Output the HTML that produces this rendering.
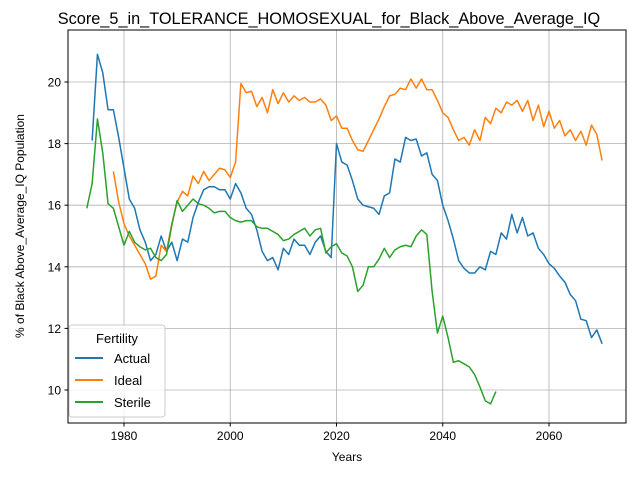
<!DOCTYPE html>
<html><head><meta charset="utf-8"><style>
body{margin:0;background:#fff;font-family:"Liberation Sans",sans-serif}
svg text{font-family:"Liberation Sans",sans-serif;fill:#000}
</style></head><body>
<svg id="chart" width="640" height="480" viewBox="0 0 640 480" xmlns="http://www.w3.org/2000/svg">
<rect width="640" height="480" fill="#fff"/>
<g id="grid"></g>
<g id="series"></g>
<rect x="68" y="30" width="558" height="393" fill="none" stroke="#000" stroke-width="1"/>
<g id="ticks"></g>
<text x="329" y="24" font-size="16.3" text-anchor="middle">Score_5_in_TOLERANCE_HOMOSEXUAL_for_Black_Above_Average_IQ</text>
<text x="347" y="461" font-size="12" text-anchor="middle">Years</text>
<text transform="translate(24,226) rotate(-90)" font-size="12" text-anchor="middle">% of Black Above_Average_IQ Population</text>
<g>
<rect x="69" y="325" width="96" height="92" rx="3" fill="#fff" fill-opacity="0.8" stroke="#ccc"/>
<text x="117" y="343" font-size="13" text-anchor="middle">Fertility</text>
<g><line x1="75" y1="358" x2="103" y2="358" stroke="#1f77b4" stroke-width="2"/><text x="114" y="363" font-size="13">Actual</text></g>
<g><line x1="75" y1="380" x2="103" y2="380" stroke="#ff7f0e" stroke-width="2"/><text x="114" y="385" font-size="13">Ideal</text></g>
<g><line x1="75" y1="402" x2="103" y2="402" stroke="#2ca02c" stroke-width="2"/><text x="114" y="407" font-size="13">Sterile</text></g>
</g>
</svg>
<script>
const actualStart = 1974;
const actualValues = [18.1,20.9,20.3,19.1,19.1,18.2,17.2,16.2,15.9,15.2,14.8,14.2,14.4,15.0,14.5,14.8,14.2,14.9,14.8,15.6,16.1,16.5,16.6,16.6,16.5,16.5,16.2,16.7,16.4,15.9,15.7,15.2,14.5,14.2,14.3,13.9,14.6,14.4,14.9,14.7,14.7,14.4,14.8,15.0,14.5,14.3,18.0,17.4,17.3,16.8,16.2,16.0,15.95,15.9,15.7,16.3,16.4,17.5,17.4,18.2,18.1,18.15,17.6,17.7,17.0,16.8,16.0,15.5,14.9,14.2,13.95,13.8,13.8,14.0,13.9,14.5,14.4,15.1,14.9,15.7,15.1,15.6,15.0,15.1,14.6,14.4,14.1,13.95,13.7,13.5,13.1,12.9,12.3,12.25,11.7,11.95,11.5];
const idealStart = 1978;
const idealValues = [17.1,16.1,15.4,15.0,14.7,14.4,14.1,13.6,13.7,14.7,14.5,15.4,16.1,16.45,16.3,16.95,16.7,17.1,16.8,17.0,17.2,17.15,16.9,17.4,19.95,19.65,19.7,19.2,19.5,19.0,19.75,19.3,19.65,19.35,19.55,19.4,19.5,19.35,19.35,19.45,19.25,18.75,18.9,18.5,18.5,18.1,17.8,17.75,18.1,18.45,18.8,19.2,19.55,19.6,19.8,19.75,20.1,19.8,20.1,19.75,19.75,19.4,19.0,18.85,18.45,18.1,18.2,17.95,18.45,18.1,18.85,18.65,19.15,19.0,19.35,19.25,19.4,19.05,19.4,18.75,19.25,18.55,19.05,18.5,18.75,18.25,18.45,18.1,18.4,17.95,18.6,18.3,17.45];
const sterileStart = 1973;
const sterileValues = [15.9,16.7,18.8,17.7,16.05,15.9,15.3,14.7,15.15,14.8,14.65,14.55,14.6,14.3,14.2,14.4,15.35,16.15,15.8,16.0,16.2,16.05,16.0,15.9,15.75,15.8,15.8,15.6,15.5,15.45,15.5,15.5,15.3,15.25,15.25,15.15,15.05,14.85,14.9,15.05,15.15,15.25,15.0,15.2,15.25,14.45,14.65,14.75,14.45,14.35,14.0,13.2,13.4,14.0,14.0,14.25,14.6,14.3,14.55,14.65,14.7,14.65,15.0,15.2,15.05,13.2,11.85,12.4,11.7,10.9,10.95,10.85,10.75,10.5,10.1,9.65,9.55,9.95];
const xTicks = [1980,2000,2020,2040,2060];
const yTicks = [10,12,14,16,18,20];

const NS = "http://www.w3.org/2000/svg";
function xs(yr){return 124 + (yr-1980)*(549-124)/80;}
function ys(v){return 390 - (v-10)*(390-82)/10;}
const grid = document.getElementById('grid'), ticks = document.getElementById('ticks'), ser = document.getElementById('series');
function mk(tag, attrs, parent){const e=document.createElementNS(NS,tag);for(const k in attrs)e.setAttribute(k,attrs[k]);parent.appendChild(e);return e;}
xTicks.forEach(t=>{
  const x=xs(t);
  const g=mk('line',{x1:x,x2:x,y1:30,y2:423,stroke:'#b0b0b0','stroke-width':0.8},grid);
  
  
  mk('line',{x1:x,x2:x,y1:423,y2:426.5,stroke:'#000'},ticks);
  const tx=mk('text',{x:x,y:440,'font-size':12,'text-anchor':'middle'},ticks);
  tx.textContent=t;
  
  
});
yTicks.forEach(t=>{
  const y=ys(t);
  const g=mk('line',{x1:68,x2:626,y1:y,y2:y,stroke:'#b0b0b0','stroke-width':0.8},grid);
  
  
  mk('line',{x1:64.5,x2:68,y1:y,y2:y,stroke:'#000'},ticks);
  const tx=mk('text',{x:61,y:y+4.5,'font-size':12,'text-anchor':'end'},ticks);
  tx.textContent=t;
  
  
});
function draw(start, vals, color, name){
  const pts = vals.map((v,i)=>xs(start+i).toFixed(2)+','+ys(v).toFixed(2)).join(' ');
  const p = mk('polyline',{points:pts,fill:'none',stroke:color,'stroke-width':1.5,'stroke-linejoin':'round'},ser);
  
  
}
draw(actualStart, actualValues, '#1f77b4', 'actual-line');
draw(idealStart, idealValues, '#ff7f0e', 'ideal-line');
draw(sterileStart, sterileValues, '#2ca02c', 'sterile-line');
</script>
</body></html>
